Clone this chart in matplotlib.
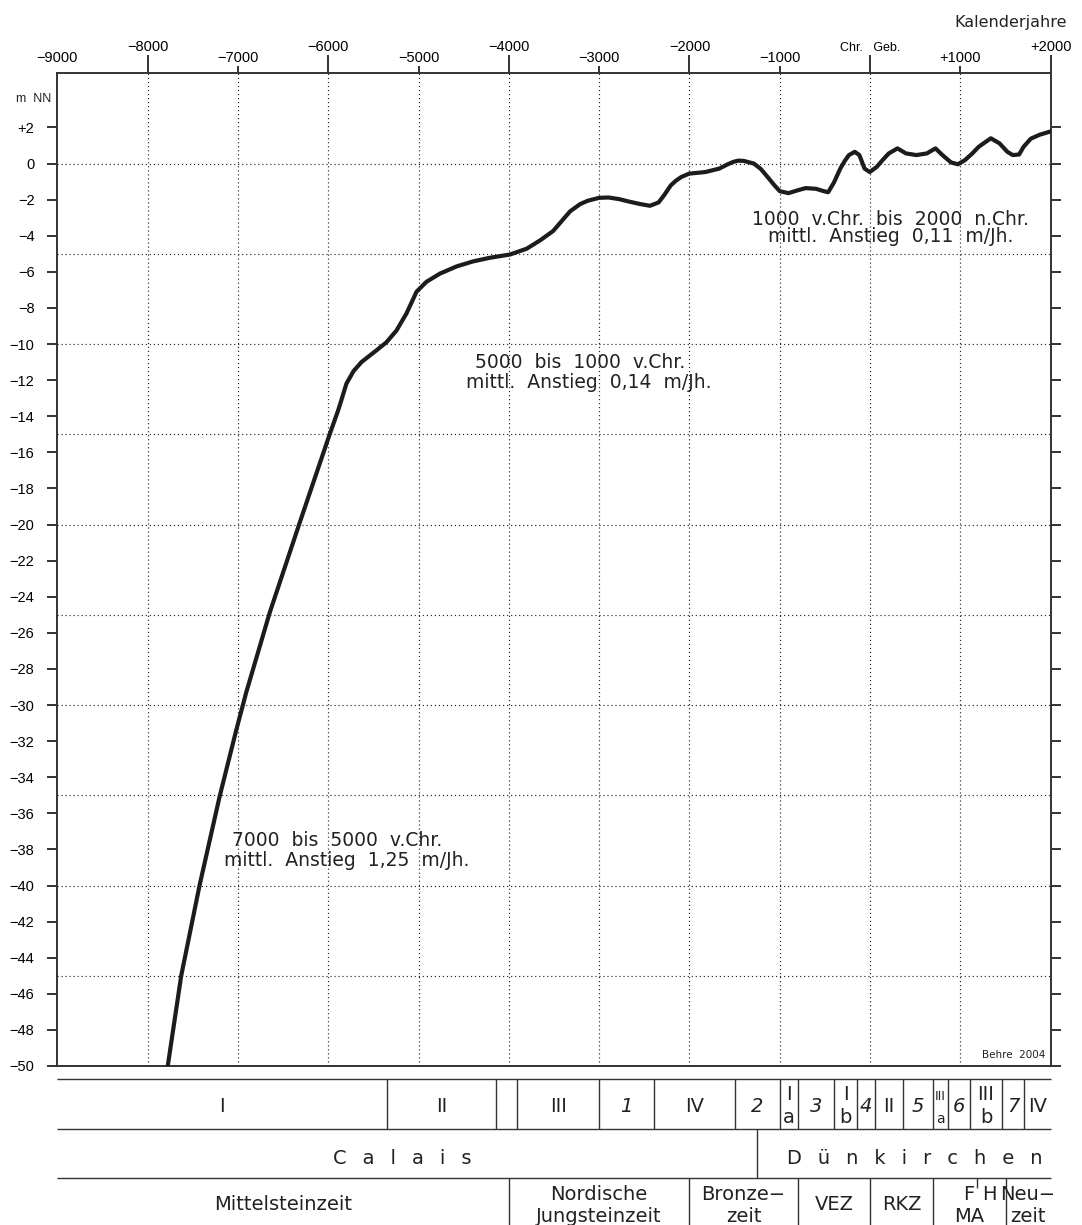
import matplotlib.pyplot as plt
import numpy as np

plt.rcParams['font.family'] = 'DejaVu Sans'

# sea level curve (calendar years, m NN)
years = [-7777, -7628, -7425, -7204, -7019, -6945, -6908, -6649, -6316, -5984,
         -5892, -5854, -5799, -5720, -5632, -5466, -5355, -5244, -5133, -5022,
         -4912, -4764, -4579, -4395, -4210, -3988, -3803, -3655, -3510, -3400,
         -3322, -3212, -3126, -3000, -2897, -2780, -2667, -2550, -2437, -2341,
         -2280, -2207, -2150, -2092, -2004, -1824, -1670, -1580, -1517, -1460,
         -1402, -1287, -1210, -1134, -1060, -1000, -904, -800, -713, -598,
         -520, -464, -400, -330, -280, -234, -169, -119, -90, -61,
         -4, 73, 140, 207, 303, 398, 513, 628, 724, 801,
         897, 973, 1050, 1130, 1203, 1337, 1433, 1520, 1580, 1650,
         1700, 1780, 1880, 2000]
level = [-50.0, -45.0, -40.0, -35.1, -31.4, -30.0, -29.3, -24.9, -19.9, -15.0,
         -13.7, -13.1, -12.2, -11.5, -11.0, -10.35, -9.9, -9.25, -8.3, -7.1,
         -6.55, -6.1, -5.7, -5.42, -5.22, -5.04, -4.72, -4.26, -3.74, -3.1,
         -2.65, -2.25, -2.06, -1.9, -1.88, -1.97, -2.11, -2.24, -2.34, -2.15,
         -1.75, -1.21, -0.95, -0.75, -0.56, -0.47, -0.28, -0.05, 0.09, 0.16,
         0.15, 0.0, -0.3, -0.75, -1.2, -1.53, -1.64, -1.48, -1.36, -1.40,
         -1.52, -1.59, -1.05, -0.28, 0.15, 0.47, 0.65, 0.47, 0.1, -0.28,
         -0.47, -0.19, 0.2, 0.56, 0.84, 0.56, 0.47, 0.56, 0.84, 0.47,
         0.06, -0.04, 0.19, 0.55, 0.93, 1.40, 1.12, 0.65, 0.47, 0.50,
         0.93, 1.38, 1.60, 1.78]

top_major = [-8000, -6000, -4000, -2000, 0, 2000]
top_major_labels = ["−8000", "−6000", "−4000", "−2000", "Chr.   Geb.", "+2000"]
top_minor = [-9000, -7000, -5000, -3000, -1000, 1000]
top_minor_labels = ["−9000", "−7000", "−5000", "−3000", "−1000", "+1000"]

y_ticks = list(range(-50, 3, 2))
y_labels = ["+2" if v > 0 else ("0" if v == 0 else f"−{-v}") for v in y_ticks]

grid_x = list(range(-8000, 2000, 1000))
grid_y = list(range(-45, 1, 5))

# rise rate notes: (text, x, baseline y)
notes = [
    ("1000  v.Chr.  bis  2000  n.Chr.", 226, -3.40),
    ("mittl.  Anstieg  0,11  m/Jh.", 226, -4.34),
    ("5000  bis  1000  v.Chr.", -3212, -11.35),
    ("mittl.  Anstieg  0,14  m/Jh.", -3114, -12.45),
    ("7000  bis  5000  v.Chr.", -5900, -37.83),
    ("mittl.  Anstieg  1,25  m/Jh.", -5795, -38.93),
]

# table below the plot
phase_edges = [-5346, -4146, -3906, -3000, -2393, -1496, -1000, -795, -396,
               -148, 54, 361, 700, 863, 1106, 1461, 1704]
phase_labels = ["I", "II", "", "III", "1", "IV", "2", "I|a", "3", "I|b", "4",
                "II", "5", "III|a", "6", "III|b", "7", "IV"]
trans_edges = [-1249]
trans_labels = ["Calais", "Dünkirchen"]
trans_shift = [-60, 115]
period_edges = [-4000, -2000, -800, 0, 700, 1500]
period_labels = ["Mittelsteinzeit", "Nordische\nJungsteinzeit", "Bronze−\nzeit",
                 "VEZ", "RKZ", "\nMA", "Neu−\nzeit"]
fh_tick = 1184

ink = '#333333'

fig = plt.figure(figsize=(10.82, 12.25), dpi=100)
ax = fig.add_axes([0.05296, 0.12980, 0.91811, 0.81036])
ax.set_xlim(-9000, 2000)
ax.set_ylim(-50, 5)

for gx in grid_x:
    ax.axvline(gx, color='#2a2a2a', lw=0.85, ls=(0, (1, 2.4)), zorder=1)
for gy in grid_y:
    ax.axhline(gy, color='#2a2a2a', lw=0.85, ls=(0, (1, 2.4)), zorder=1)

ax.plot(years, level, color='#1c1c1c', lw=3.0, solid_joinstyle='round', zorder=3)

for s in ax.spines.values():
    s.set_color(ink)
    s.set_linewidth(1.4)

ax.xaxis.set_ticks_position('top')
ax.set_xticks(top_major, top_major_labels)
ax.set_xticks(top_minor, top_minor_labels, minor=True)
ax.tick_params(axis='x', which='major', length=13, width=1.4, pad=1,
               labelsize=10.5, color=ink)
ax.tick_params(axis='x', which='minor', length=5, width=1.4, pad=1,
               labelsize=10.5, color=ink)
for t in ax.get_xticklabels() + ax.get_xticklabels(minor=True):
    t.set_fontfamily('Liberation Sans')
ax.get_xticklabels()[4].set_fontsize(9)
ax.xaxis.get_minor_ticks()[0].tick2line.set_visible(False)

ax.set_yticks(y_ticks, y_labels)
ax.tick_params(axis='y', left=True, right=True, length=7, width=1.4, pad=9.5,
               labelsize=10.5, color=ink)
for t in ax.get_yticklabels():
    t.set_fontfamily('Liberation Sans')

for txt, x, y in notes:
    ax.text(x, y, txt, ha='center', va='baseline', fontsize=13.5, color='#222222')

fig.text(51.7 / 1082, 1 - 102.3 / 1225, "m  NN", ha='right', va='baseline',
         fontsize=9, family='Liberation Sans', color='#222222')
fig.text(1067 / 1082, 1 - 27 / 1225, "Kalenderjahre", ha='right', va='baseline',
         fontsize=11.5, color='#222222')
fig.text(1045 / 1082, 1 - 1057.7 / 1225, "Behre  2004", ha='right', va='baseline',
         fontsize=7.5, color='#222222')

# --- table ---
tab = fig.add_axes([0.05296, 0.0, 0.91811, 0.11902])
tab.set_xlim(-9000, 2000)
tab.set_ylim(0.051, 3)
tab.axis('off')
tab.hlines([3, 2, 1], -9000, 2000, color=ink, lw=1.0, clip_on=False)
tab.vlines(phase_edges, 2, 3, color=ink, lw=1.0)
tab.vlines(trans_edges, 1, 2, color=ink, lw=1.0)
tab.vlines(period_edges, 0, 1, color=ink, lw=1.0)
tab.vlines([fh_tick], 0.8, 1, color=ink, lw=1.0)


def centers(edges):
    b = [-9000] + list(edges) + [2000]
    return [(b[i] + b[i + 1]) / 2 for i in range(len(b) - 1)]


tc = dict(color='#222222', ha='center', va='baseline')
for cx, lab in zip(centers(phase_edges), phase_labels):
    if "|" in lab:
        up, low = lab.split("|")
        small = len(up) == 3 and low == "a"
        tab.text(cx, 2.577, up, fontsize=9 if small else 14, **tc)
        tab.text(cx, 2.105, low, fontsize=10 if small else 14, **tc)
    elif lab.isdigit():
        tab.text(cx, 2.343, lab, fontsize=14, style='italic', **tc)
    else:
        tab.text(cx, 2.343, lab, fontsize=14, **tc)

# letter-spaced names of the transgression phases
for cx, lab, dx in zip(centers(trans_edges), trans_labels, trans_shift):
    tab.text(cx + dx, 1.283, "\u2002 ".join(lab), fontsize=14, **tc)

for cx, lab in zip(centers(period_edges), period_labels):
    if "\n" in lab:
        up, low = lab.split("\n")
        if up:
            tab.text(cx, 0.556, up, fontsize=14, **tc)
        tab.text(cx, 0.118, low, fontsize=14, **tc)
    else:
        tab.text(cx, 0.354, lab, fontsize=14, **tc)

tab.text(fh_tick - 25, 0.556, "F", fontsize=14, color='#222222', ha='right', va='baseline')
tab.text(fh_tick + 55, 0.556, "H", fontsize=14, color='#222222', ha='left', va='baseline')

fig.savefig('out.png', dpi=100)
